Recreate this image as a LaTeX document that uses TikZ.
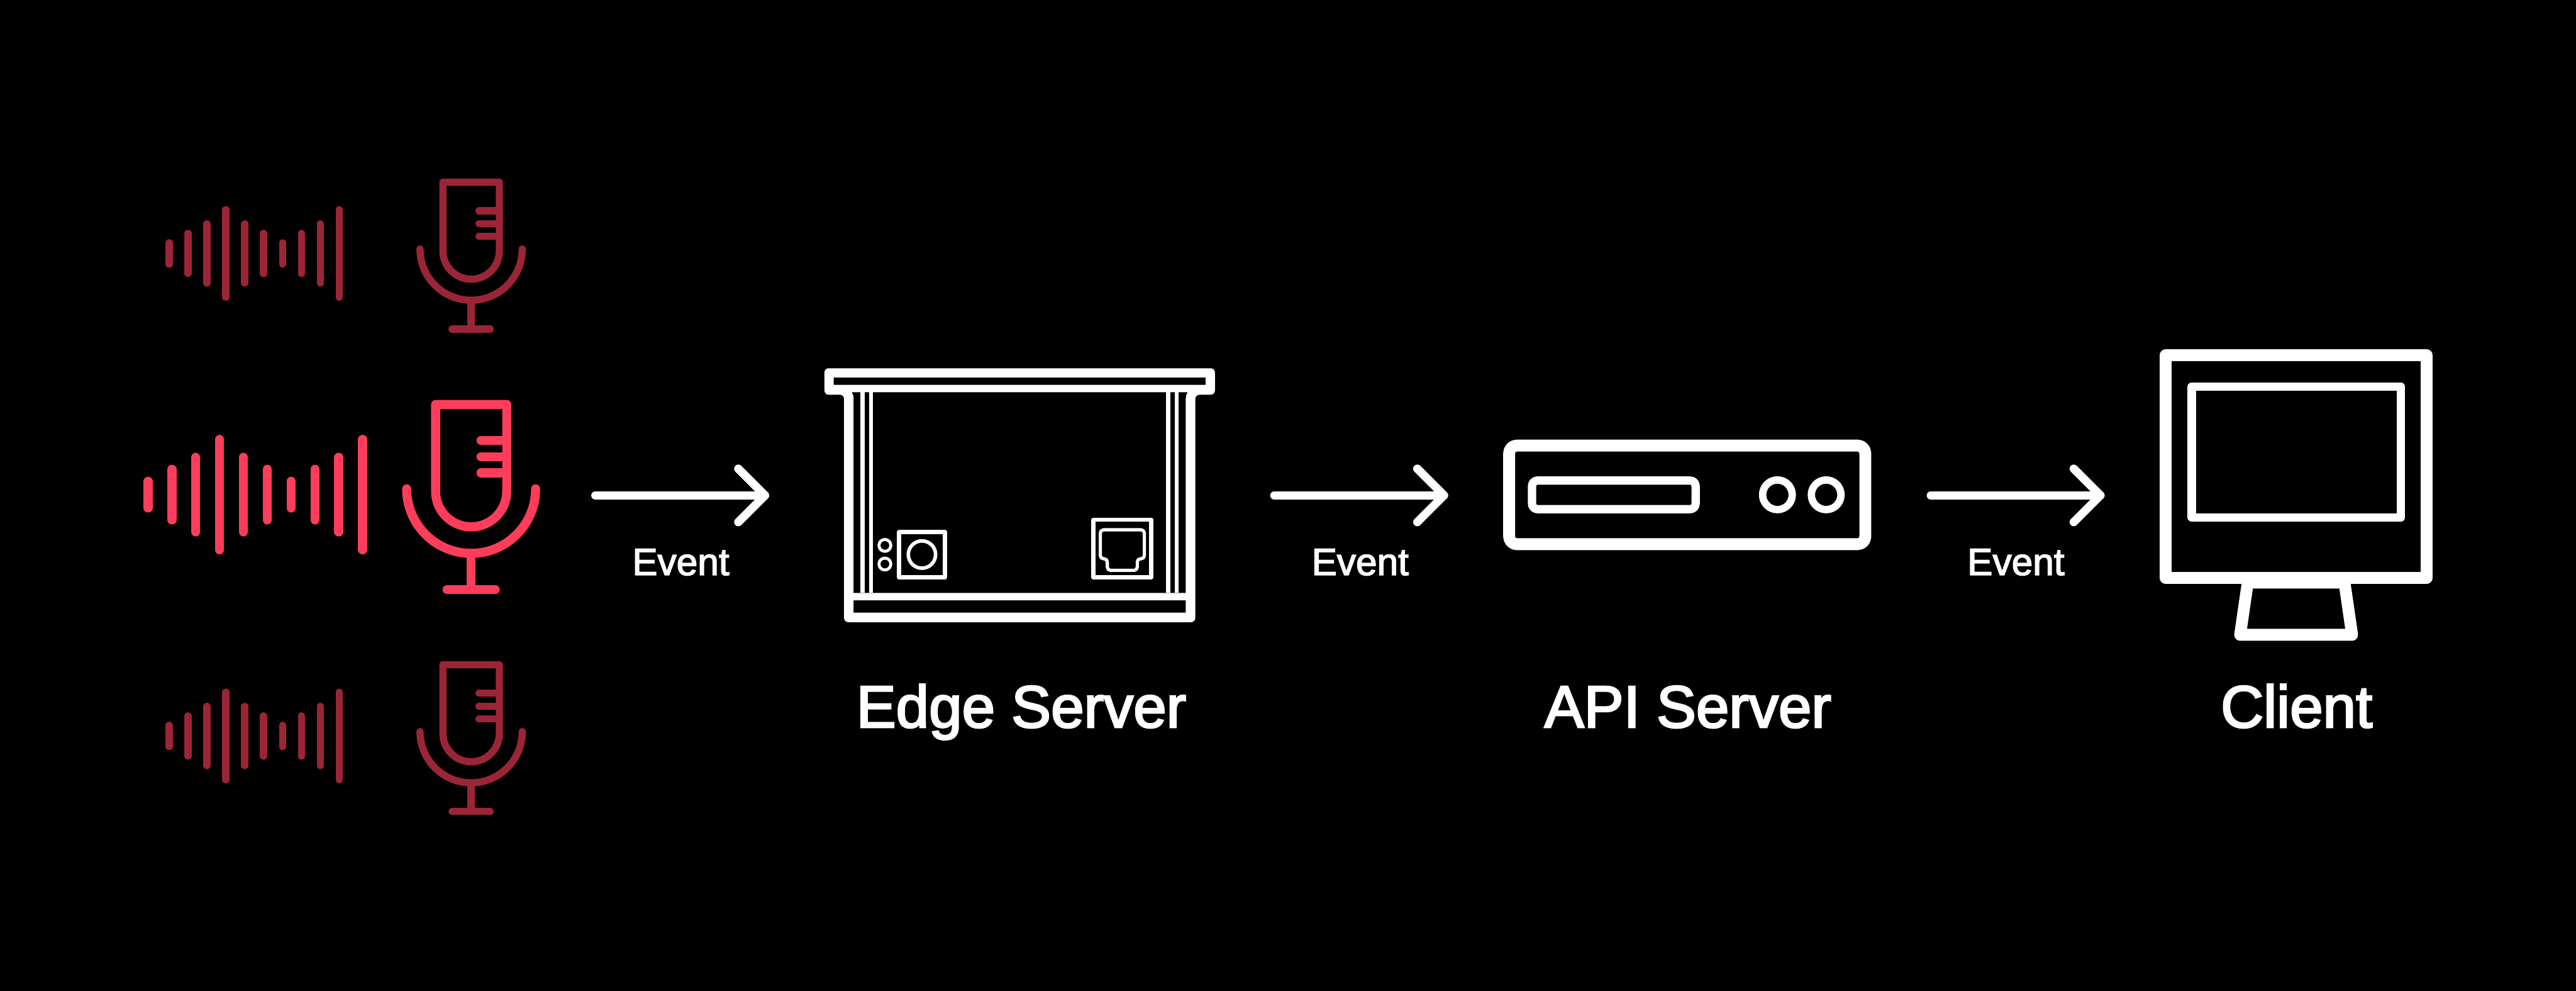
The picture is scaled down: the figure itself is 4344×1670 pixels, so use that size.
\documentclass[tikz,border=0pt]{standalone}
\usepackage{fontspec}
\setmainfont{Liberation Sans}
\newfontfamily\eventfont[FakeBold=2.5]{Liberation Sans}
\newfontfamily\titlefont[FakeBold=3]{Liberation Sans}
\definecolor{micbright}{HTML}{FF3D5A}
\definecolor{micdim}{HTML}{9B2537}
\tikzset{
  lw/.style={line width=#1*0.28453pt},
  roundline/.style={line cap=round,line join=round},
  connector/.style={white,lw=14,roundline},
  titletext/.style={white,anchor=base,inner sep=0pt,font=\titlefont\fontsize{28.45pt}{30pt}\selectfont},
  eventtext/.style={white,anchor=base,inner sep=0pt,font=\eventfont\fontsize{18.2pt}{20pt}\selectfont},
  iconline/.style={white,lw=#1,line join=round}
}
\newcommand\soundbars[2]{%
  \foreach \i/\h in {0/30.2,1/50.3,2/70.5,3/100.7,4/70.5,5/50.3,6/30.2,7/50.3,8/70.5,9/100.7}{%
    \draw[#2,lw=#1,line cap=round] ({249.7+40.2*\i},{833.7-\h+7.65}) -- ({249.7+40.2*\i},{833.7+\h-7.65});
  }%
}
\newcommand\micicon[2]{%
  \draw[#2,lw=#1,line join=round] (734.5,828) -- (734.5,681.8) -- (854.5,681.8) -- (854.5,828) arc[start angle=0,end angle=180,radius=60];
  \draw[#2,lw=#1,line cap=round] (811.2,742.3) -- (854.5,742.3);
  \draw[#2,lw=#1,line cap=round] (811.2,769.8) -- (854.5,769.8);
  \draw[#2,lw=#1,line cap=round] (811.2,797) -- (854.5,797);
  \draw[#2,lw=#1,line cap=round] (685.8,824) arc[start angle=180,end angle=0,radius=108.7];
  \draw[#2,lw=#1] (794.5,932.7) -- (794.5,993.8);
  \draw[#2,lw=#1,line cap=round] (754,993.8) -- (835,993.8);
}
\begin{document}
\begin{tikzpicture}[x=0.01cm,y=0.01cm,yscale=-1]
\fill[black] (0,0) rectangle (4344,1670);
\useasboundingbox (0,0) rectangle (4344,1670);

% top (dim) source
\begin{scope}[shift={(428.6,427.2)},scale=.793,shift={(-430.6,-833.7)}]\soundbars{12.1}{micdim}\end{scope}
\begin{scope}[shift={(794.5,430.85)},scale=.793,shift={(-794.5,-837.85)}]\micicon{12.1}{micdim}\end{scope}
% middle (bright) source
\soundbars{15.3}{micbright}
\micicon{15.3}{micbright}
% bottom (dim) source
\begin{scope}[shift={(428.6,1240.5)},scale=.793,shift={(-430.6,-833.7)}]\soundbars{12.1}{micdim}\end{scope}
\begin{scope}[shift={(794.5,1244.2)},scale=.793,shift={(-794.5,-837.85)}]\micicon{12.1}{micdim}\end{scope}

% edge server
\fill[white,even odd rule]
  [rounded corners=2pt] (1390.3,620.7) -- (2048.7,620.7) -- (2048.7,665.3) -- (2015.6,665.3) -- (2015.6,1048.7) -- (1423.4,1048.7) -- (1423.4,665.3) -- (1390.3,665.3) -- cycle
  [sharp corners] (1405.9,636.3) rectangle (2033.1,648.7)
  (1436.2,661) -- (2002.8,661) .. controls (2000.4,664) and (1999.6,668) .. (1999.6,671.7) -- (1999.6,999.3) -- (1439.4,999.3) -- (1439.4,671.7) .. controls (1439.4,668) and (1438.6,664) .. (1436.2,661) -- cycle
  (1439.4,1012) rectangle (1999.6,1032.7);
\fill[white] (1450.9,661) rectangle (1458.3,999.3);
\fill[white] (1466,661) rectangle (1472.5,999.3);
\fill[white] (1966,661) rectangle (1973.4,999.3);
\fill[white] (1980.7,661) rectangle (1987.6,999.3);
\draw[iconline=6.8] (1516.1,896.8) rectangle (1593.3,973.2);
\draw[iconline=6] (1554.7,934.7) circle[radius=23];
\draw[iconline=5] (1492.2,919.3) circle[radius=10];
\draw[iconline=5] (1492.2,950.7) circle[radius=10];
\draw[iconline=6.8] (1843.9,875.8) rectangle (1941.3,973.2);
\draw[iconline=5.4,rounded corners=1.5pt] (1855.5,893) -- (1929.7,893) -- (1929.7,941.8) -- (1917.8,941.8) -- (1917.8,961.3) -- (1867.3,961.3) -- (1867.3,941.8) -- (1855.5,941.8) -- cycle;

% API server
\draw[iconline=20,rounded corners=3.7pt] (2544.9,751) rectangle (3145.5,917.3);
\draw[iconline=14,rounded corners=2.6pt] (2583.5,810) rectangle (2859.4,858.2);
\draw[iconline=12.4] (2997.3,834) circle[radius=25];
\draw[iconline=12.4] (3079.5,834) circle[radius=25];

% client monitor
\draw[iconline=20] (3652,598.9) rectangle (4092.1,974);
\draw[iconline=14] (3696,651.9) rectangle (4049,872);
\draw[iconline=20] (3790.4,982) -- (3953.6,982) -- (3966.4,1070) -- (3777.6,1070) -- cycle;

% connectors
\coordinate (a1start) at (1004,835);
\coordinate (a1tip) at (1290,835);
\coordinate (a1up) at (1245,790);
\coordinate (a1down) at (1245,880);
\draw[connector] (a1start) -- (a1tip);
\draw[connector] (a1up) -- (a1tip) -- (a1down);
\coordinate (a2start) at (2149,835);
\coordinate (a2tip) at (2435,835);
\coordinate (a2up) at (2390,790);
\coordinate (a2down) at (2390,880);
\draw[connector] (a2start) -- (a2tip);
\draw[connector] (a2up) -- (a2tip) -- (a2down);
\coordinate (a3start) at (3256,835);
\coordinate (a3tip) at (3542,835);
\coordinate (a3up) at (3497,790);
\coordinate (a3down) at (3497,880);
\draw[connector] (a3start) -- (a3tip);
\draw[connector] (a3up) -- (a3tip) -- (a3down);

% labels
\node[eventtext] (ev1) at (1148,969.3) {Event};
\node[eventtext] (ev2) at (2293.7,969.3) {Event};
\node[eventtext] (ev3) at (3399.5,969.3) {Event};
\node[titletext] (edge) at (1722.3,1226) {Edge Server};
\node[titletext] (api) at (2846.3,1226) {API Server};
\node[titletext] (client) at (3872.8,1226) {Client};
\end{tikzpicture}
\end{document}
